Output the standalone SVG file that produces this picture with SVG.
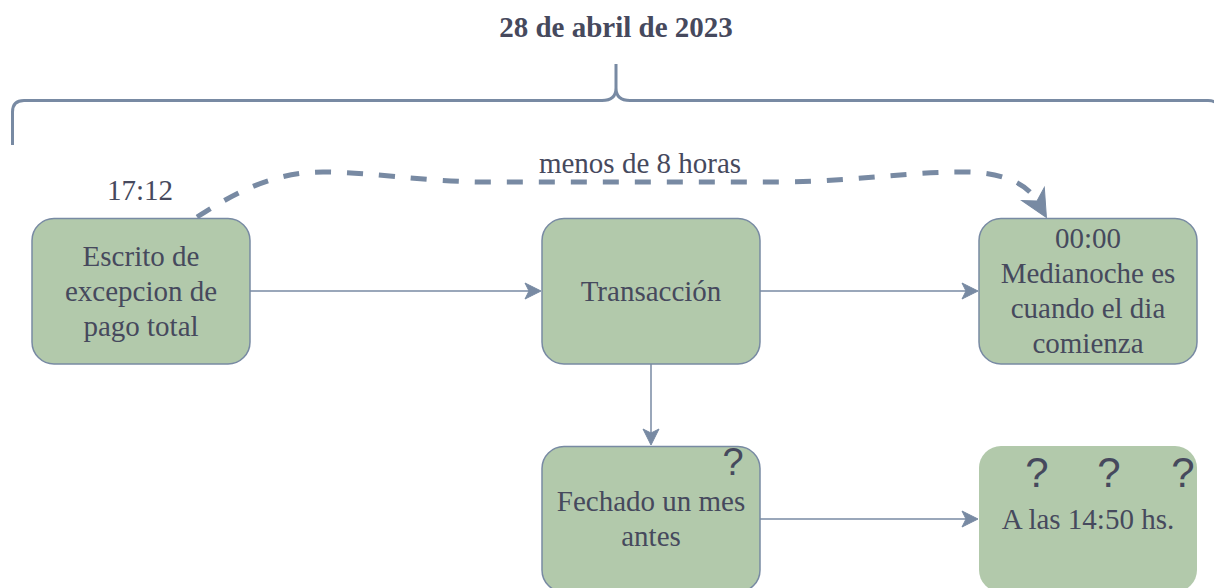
<svg xmlns="http://www.w3.org/2000/svg" width="1214" height="588" viewBox="0 0 1214 588">
  <style>
    .node { fill: #B2C9AB; stroke: #788AA3; stroke-width: 1.5; }
    .nostroke { stroke: none; }
    .lbl { font-family: "Liberation Serif", "Times New Roman", serif; font-size: 29px; fill: #46495D; text-anchor: middle; }
    .title { font-family: "Liberation Serif", "Times New Roman", serif; font-size: 29px; font-weight: bold; fill: #46495D; text-anchor: middle; }
    .q { font-family: "Liberation Sans", Arial, sans-serif; fill: #46495D; text-anchor: middle; }
    .edge { fill: none; stroke: #788AA3; stroke-width: 1.5; }
    .dashed { fill: none; stroke: #788AA3; stroke-width: 5; stroke-dasharray: 16 16; }
    .brace { fill: none; stroke: #788AA3; stroke-width: 3; }
  </style>
  <defs>
    <marker id="arr" markerUnits="userSpaceOnUse" markerWidth="20" markerHeight="20" refX="0" refY="0" orient="auto" overflow="visible">
      <path d="M0,0 L-4,-8 L12,0 L-4,8 Z" fill="#788AA3" stroke="#788AA3" stroke-width="1"/>
    </marker>
    <marker id="bigarr" markerUnits="userSpaceOnUse" markerWidth="40" markerHeight="40" refX="0" refY="0" orient="auto" overflow="visible">
      <path d="M0,0 L-8,-13 L19,0 L-8,13 Z" fill="#788AA3" stroke="#788AA3" stroke-width="1"/>
    </marker>
  </defs>

  <g id="title">
    <text class="title" x="616" y="37">28 de abril de 2023</text>
  </g>

  <g id="brace">
    <path class="brace" d="M12.5,145 L12.5,112 Q12.5,100.5 24,100.5 L602,100.5 Q616,100.5 616,88 L616,64 M616,88 Q616,100.5 630,100.5 L1208,100.5 Q1219.5,100.5 1219.5,112 L1219.5,145"/>
  </g>

  <g id="connectors">
    <path class="dashed" d="M197,217 C232,195 270,172 323,172 C370,172 420,181 480,182 L780,182 C850,182 900,172 965,172 C995,172 1025,180 1037,201" marker-end="url(#bigarr)"/>
    <path class="edge" d="M250,291 L529,291" marker-end="url(#arr)"/>
    <path class="edge" d="M760,291 L966,291" marker-end="url(#arr)"/>
    <path class="edge" d="M651,364 L651,433" marker-end="url(#arr)"/>
    <path class="edge" d="M760,519 L966,519" marker-end="url(#arr)"/>
  </g>

  <g id="label-menos">
    <text class="lbl" x="640" y="173">menos de 8 horas</text>
  </g>
  <g id="label-1712">
    <text class="lbl" x="140" y="200">17:12</text>
  </g>

  <g id="node-escrito">
    <rect class="node" x="32" y="218.5" width="218" height="145.5" rx="22"/>
    <text class="lbl" x="141" y="265.5">Escrito de</text>
    <text class="lbl" x="141" y="300.5">excepcion de</text>
    <text class="lbl" x="141" y="335.5">pago total</text>
  </g>

  <g id="node-transaccion">
    <rect class="node" x="542" y="218.5" width="218" height="145.5" rx="22"/>
    <text class="lbl" x="651" y="300.5">Transacción</text>
  </g>

  <g id="node-medianoche">
    <rect class="node" x="979" y="218.5" width="218" height="145.5" rx="22"/>
    <text class="lbl" x="1088" y="248">00:00</text>
    <text class="lbl" x="1088" y="283">Medianoche es</text>
    <text class="lbl" x="1088" y="318">cuando el dia</text>
    <text class="lbl" x="1088" y="353">comienza</text>
  </g>

  <g id="node-fechado">
    <rect class="node" x="542" y="446.5" width="218" height="145.5" rx="22"/>
    <text class="lbl" x="651" y="511">Fechado un mes</text>
    <text class="lbl" x="651" y="546">antes</text>
    <text class="q" x="733" y="475" font-size="38">?</text>
  </g>

  <g id="node-hora">
    <rect class="node nostroke" x="979" y="446" width="218" height="146" rx="22"/>
    <text class="lbl" x="1088" y="528.5">A las 14:50 hs.</text>
    <text class="q" x="1037" y="487" font-size="42">?</text>
    <text class="q" x="1109" y="487" font-size="42">?</text>
    <text class="q" x="1183" y="487" font-size="42">?</text>
  </g>
</svg>
